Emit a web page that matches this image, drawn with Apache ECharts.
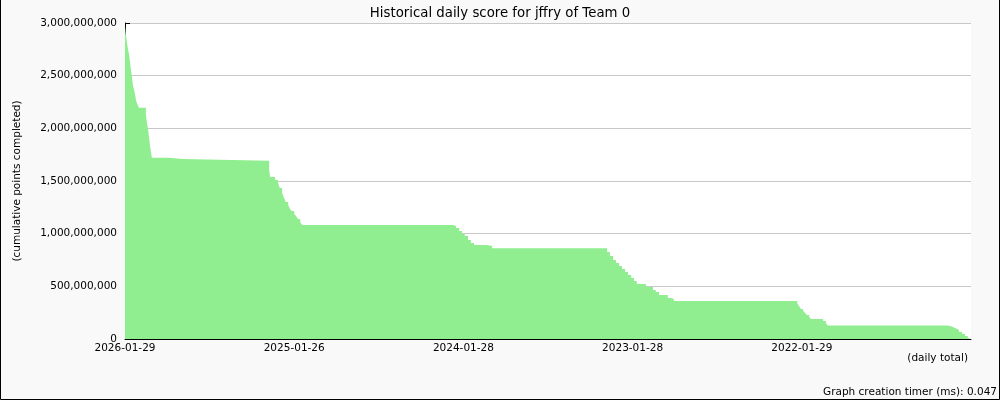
<!DOCTYPE html>
<html>
<head>
<meta charset="utf-8">
<script src="https://cdn.jsdelivr.net/npm/echarts@6/dist/echarts.min.js"></script>
<style>
  html, body { margin: 0; padding: 0; background: #f9f9f9; }
  #main { width: 1000px; height: 400px; }
</style>
</head>
<body>
<div id="main"></div>
<script>
// x = days back from 2026-01-29, y = cumulative score (millions), each level holds until next point
var dayOffsets = [0, 2, 4, 6, 9, 11, 13, 15, 17, 19, 22, 24, 26, 30, 45, 47, 50, 52, 54, 56, 58, 95, 125,
  311, 313, 324, 330, 334, 339, 343, 347, 352, 356, 360, 365, 369, 373, 378, 382,
  708, 714, 721, 727, 733, 740, 746, 753, 781, 792,
  1040, 1046, 1053, 1059, 1066, 1072, 1079, 1085, 1092, 1098, 1104, 1124, 1139, 1145, 1152, 1171, 1178, 1184,
  1450, 1454, 1458, 1463, 1467, 1471, 1476, 1480, 1506, 1512, 1516,
  1773, 1780, 1786, 1793, 1799, 1806, 1812, 1818, 1825];
var scoreMillions = [2972, 2886, 2823, 2760, 2696, 2617, 2554, 2490, 2411, 2373, 2317, 2260, 2238, 2196, 2136, 2063, 1984, 1905, 1832, 1778, 1721, 1709, 1693,
  1604, 1538, 1510, 1481, 1434, 1386, 1339, 1301, 1272, 1234, 1215, 1187, 1168, 1139, 1111, 1082,
  1073, 1054, 1025, 997, 978, 940, 911, 892, 883, 862,
  826, 788, 750, 722, 693, 665, 636, 608, 579, 551, 522, 494, 465, 446, 418, 389, 380, 361,
  342, 313, 285, 266, 247, 228, 209, 190, 171, 152, 128,
  123, 114, 100, 85, 66, 47, 28, 9, 0];
var dateLabels = ['2026-01-29', '2025-01-26', '2024-01-28', '2023-01-28', '2022-01-29'];

var seriesData = dayOffsets.map(function (d, i) {
  return [d, scoreMillions[i] * 1000000];
});

var chart = echarts.init(document.getElementById('main'));
var option = {
  backgroundColor: '#f9f9f9',
  animation: false,
  textStyle: { fontFamily: 'DejaVu Sans' },
  title: {
    text: 'Historical daily score for jffry of Team 0',
    left: 'center',
    top: 2,
    textStyle: { fontSize: 13.3, fontWeight: 'normal', color: '#000', fontFamily: 'DejaVu Sans' }
  },
  grid: {
    left: 125, right: 29, top: 23, bottom: 61,
    show: true, backgroundColor: '#fff', borderWidth: 0
  },
  xAxis: {
    type: 'value',
    min: 0,
    max: 1825,
    interval: 182.5,
    axisLine: { lineStyle: { color: '#000', width: 1 } },
    axisTick: { inside: true, length: 5, lineStyle: { color: '#000' } },
    axisLabel: {
      color: '#000', fontSize: 10.5, margin: 4, showMaxLabel: false,
      formatter: function (v) {
        var k = v / 365;
        if (Math.abs(k - Math.round(k)) < 0.01 && dateLabels[Math.round(k)]) return dateLabels[Math.round(k)];
        return '';
      }
    },
    splitLine: { show: false }
  },
  yAxis: {
    type: 'value',
    min: 0,
    max: 3000000000,
    interval: 500000000,
    name: '(cumulative points completed)',
    nameLocation: 'middle',
    nameGap: 102,
    nameTextStyle: { color: '#000', fontSize: 10.5 },
    axisLine: { show: true, lineStyle: { color: '#000', width: 1 } },
    axisTick: { show: true, inside: true, length: 5, lineStyle: { color: '#000' } },
    axisLabel: {
      color: '#000', fontSize: 10.5, margin: 8,
      formatter: function (v) { return v.toLocaleString('en-US'); }
    },
    splitLine: { lineStyle: { color: '#c8c8c8', width: 1 } }
  },
  series: [{
    type: 'line',
    step: 'end',
    symbol: 'none',
    data: seriesData,
    lineStyle: { width: 0, opacity: 0 },
    areaStyle: { color: '#90ee90', opacity: 1 }
  }],
  graphic: [
    { type: 'text', right: 32, top: 353, style: { text: '(daily total)', fontSize: 10.5, fill: '#000', fontFamily: 'DejaVu Sans' } },
    { type: 'text', right: 3, top: 387, style: { text: 'Graph creation timer (ms): 0.047', fontSize: 10.5, fill: '#000', fontFamily: 'DejaVu Sans' } },
    // frame on left, bottom, right
    { type: 'polyline', shape: { points: [[0.5, 0], [0.5, 399.5], [999.5, 399.5], [999.5, 0]] }, style: { stroke: '#000', fill: null, lineWidth: 1 } }
  ]
};
chart.setOption(option);
</script>
</body>
</html>
